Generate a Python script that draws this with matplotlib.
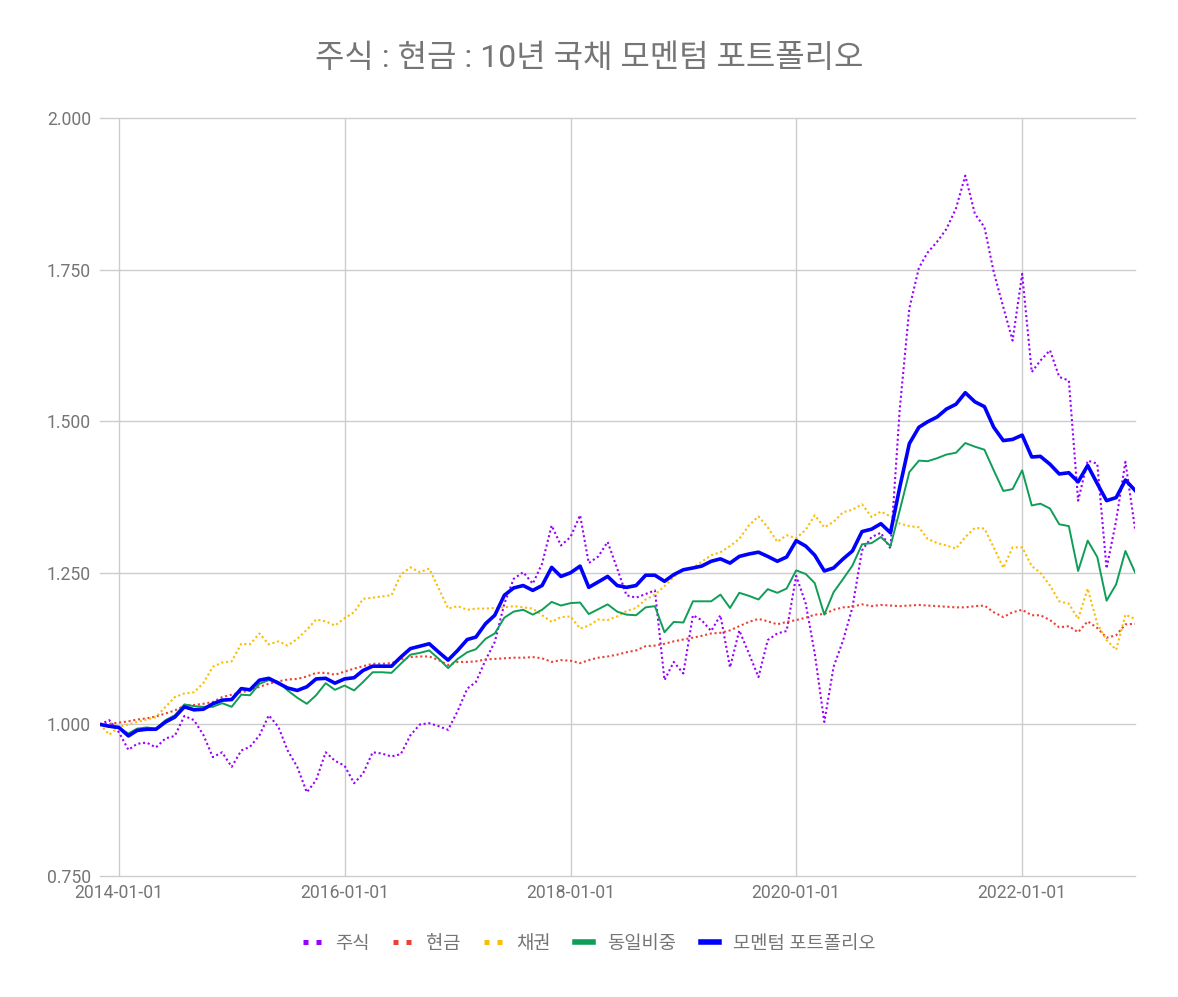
import matplotlib
matplotlib.use("Agg")
import matplotlib.pyplot as plt
import matplotlib.dates as mdates
from matplotlib.lines import Line2D
import pandas as pd

plt.rcParams['font.family'] = ['Roboto', 'Noto Sans CJK KR', 'DejaVu Sans']

# monthly index values, 2013-11 .. 2023-01
dates = pd.date_range("2013-11-01", periods=111, freq="MS")

stocks = [
    1.000, 1.007, 0.987, 0.958, 0.968, 0.970, 0.962, 0.977, 0.981, 1.014,
    1.007, 0.983, 0.946, 0.954, 0.930, 0.957, 0.963, 0.982, 1.015, 0.996,
    0.957, 0.930, 0.888, 0.908, 0.954, 0.940, 0.932, 0.903, 0.919, 0.954,
    0.952, 0.947, 0.951, 0.982, 1.000, 1.002, 0.997, 0.991, 1.022, 1.059,
    1.070, 1.106, 1.136, 1.199, 1.240, 1.251, 1.232, 1.265, 1.328, 1.295,
    1.309, 1.345, 1.266, 1.277, 1.301, 1.257, 1.213, 1.209, 1.215, 1.221,
    1.073, 1.103, 1.084, 1.180, 1.172, 1.154, 1.180, 1.094, 1.155, 1.117,
    1.078, 1.139, 1.150, 1.154, 1.245, 1.199, 1.117, 1.004, 1.095, 1.139,
    1.193, 1.287, 1.309, 1.316, 1.290, 1.520, 1.686, 1.753, 1.778, 1.796,
    1.817, 1.851, 1.905, 1.842, 1.820, 1.746, 1.688, 1.633, 1.743, 1.581,
    1.600, 1.617, 1.573, 1.567, 1.369, 1.435, 1.430, 1.257, 1.336, 1.433,
    1.323]

cash = [
    1.000, 1.001, 1.003, 1.005, 1.008, 1.010, 1.013, 1.018, 1.023, 1.031,
    1.032, 1.034, 1.037, 1.045, 1.049, 1.053, 1.056, 1.062, 1.067, 1.071,
    1.074, 1.075, 1.079, 1.085, 1.085, 1.082, 1.087, 1.092, 1.096, 1.100,
    1.100, 1.101, 1.107, 1.111, 1.112, 1.112, 1.106, 1.098, 1.103, 1.103,
    1.104, 1.107, 1.108, 1.109, 1.110, 1.110, 1.111, 1.109, 1.103, 1.106,
    1.105, 1.101, 1.106, 1.110, 1.112, 1.115, 1.119, 1.122, 1.129, 1.130,
    1.133, 1.137, 1.140, 1.143, 1.146, 1.150, 1.151, 1.155, 1.162, 1.169,
    1.174, 1.170, 1.165, 1.169, 1.172, 1.176, 1.181, 1.182, 1.189, 1.193,
    1.194, 1.198, 1.195, 1.197, 1.196, 1.195, 1.196, 1.197, 1.196, 1.195,
    1.194, 1.193, 1.193, 1.195, 1.196, 1.185, 1.177, 1.185, 1.189, 1.180,
    1.180, 1.172, 1.160, 1.162, 1.152, 1.170, 1.159, 1.143, 1.147, 1.165,
    1.166]

bonds = [
    1.000, 0.983, 0.996, 1.000, 1.004, 1.008, 1.012, 1.029, 1.045, 1.051,
    1.053, 1.068, 1.095, 1.102, 1.104, 1.133, 1.132, 1.150, 1.132, 1.137,
    1.130, 1.141, 1.156, 1.173, 1.170, 1.163, 1.175, 1.185, 1.207, 1.209,
    1.211, 1.213, 1.247, 1.259, 1.251, 1.257, 1.224, 1.191, 1.195, 1.189,
    1.191, 1.191, 1.192, 1.193, 1.195, 1.193, 1.191, 1.180, 1.169, 1.177,
    1.178, 1.158, 1.163, 1.173, 1.172, 1.178, 1.187, 1.192, 1.206, 1.214,
    1.228, 1.243, 1.255, 1.258, 1.268, 1.279, 1.284, 1.294, 1.306, 1.328,
    1.343, 1.325, 1.301, 1.312, 1.307, 1.321, 1.345, 1.325, 1.334, 1.350,
    1.354, 1.363, 1.342, 1.351, 1.343, 1.331, 1.327, 1.325, 1.306, 1.299,
    1.295, 1.290, 1.309, 1.324, 1.323, 1.292, 1.258, 1.292, 1.292, 1.261,
    1.250, 1.229, 1.203, 1.199, 1.174, 1.224, 1.166, 1.139, 1.123, 1.181,
    1.174]

equal = [
    1.000, 0.996, 0.994, 0.985, 0.993, 0.995, 0.993, 1.007, 1.015, 1.033,
    1.030, 1.029, 1.029, 1.035, 1.029, 1.049, 1.048, 1.067, 1.073, 1.070,
    1.056, 1.044, 1.034, 1.048, 1.068, 1.057, 1.064, 1.056, 1.070, 1.086,
    1.086, 1.085, 1.100, 1.115, 1.118, 1.122, 1.108, 1.093, 1.108, 1.119,
    1.124, 1.141, 1.150, 1.176, 1.186, 1.189, 1.181, 1.189, 1.202, 1.196,
    1.200, 1.201, 1.182, 1.190, 1.198, 1.186, 1.181, 1.180, 1.193, 1.195,
    1.152, 1.169, 1.168, 1.203, 1.203, 1.203, 1.214, 1.192, 1.217, 1.212,
    1.206, 1.223, 1.217, 1.224, 1.254, 1.248, 1.233, 1.181, 1.218, 1.240,
    1.262, 1.297, 1.299, 1.309, 1.294, 1.353, 1.416, 1.435, 1.434, 1.439,
    1.445, 1.448, 1.464, 1.458, 1.453, 1.419, 1.385, 1.388, 1.419, 1.361,
    1.364, 1.356, 1.330, 1.327, 1.253, 1.303, 1.276, 1.204, 1.231, 1.286,
    1.251]

momentum = [
    1.000, 0.997, 0.995, 0.981, 0.990, 0.992, 0.992, 1.004, 1.012, 1.029,
    1.024, 1.025, 1.034, 1.040, 1.041, 1.059, 1.057, 1.073, 1.076, 1.068,
    1.060, 1.056, 1.062, 1.075, 1.076, 1.068, 1.075, 1.077, 1.089, 1.096,
    1.096, 1.096, 1.111, 1.125, 1.129, 1.133, 1.119, 1.106, 1.122, 1.140,
    1.144, 1.166, 1.180, 1.213, 1.225, 1.229, 1.221, 1.229, 1.259, 1.244,
    1.250, 1.261, 1.226, 1.235, 1.244, 1.229, 1.226, 1.229, 1.246, 1.246,
    1.236, 1.247, 1.255, 1.258, 1.261, 1.269, 1.273, 1.266, 1.277, 1.281,
    1.284, 1.277, 1.269, 1.276, 1.303, 1.294, 1.279, 1.253, 1.258, 1.273,
    1.286, 1.318, 1.322, 1.331, 1.316, 1.391, 1.463, 1.490, 1.499, 1.507,
    1.520, 1.528, 1.547, 1.532, 1.524, 1.490, 1.468, 1.470, 1.477, 1.441,
    1.442, 1.429, 1.413, 1.415, 1.400, 1.427, 1.397, 1.369, 1.374, 1.403,
    1.386]

names = ["주식", "현금", "채권", "동일비중", "모멘텀 포트폴리오"]
colors = ["#9900ff", "#ea4335", "#fbbc04", "#0f9d58", "#0000ff"]
x_ticks = ["2014-01-01", "2016-01-01", "2018-01-01", "2020-01-01", "2022-01-01"]
y_ticks = [0.75, 1.0, 1.25, 1.5, 1.75, 2.0]

gray = "#757575"

fig = plt.figure(figsize=(11.78, 9.97), dpi=100)
ax = fig.add_axes([100 / 1178, 1 - 876 / 997, 1035 / 1178, 758 / 997])

dot = (0, (1, 1.3))
ax.plot(dates, stocks, color=colors[0], lw=1.5, linestyle=dot)
ax.plot(dates, cash, color=colors[1], lw=1.5, linestyle=dot)
ax.plot(dates, bonds, color=colors[2], lw=1.5, linestyle=dot)
ax.plot(dates, equal, color=colors[3], lw=1.4)
ax.plot(dates, momentum, color=colors[4], lw=2.6)

ax.set_xlim(dates[0], dates[-1])
ax.set_ylim(0.75, 2.0)
ax.set_yticks(y_ticks)
ax.set_yticklabels(["%.3f" % v for v in y_ticks])
ax.set_xticks(pd.to_datetime(x_ticks))
ax.xaxis.set_major_formatter(mdates.DateFormatter("%Y-%m-%d"))

ax.grid(True, color="#cccccc", lw=1)
ax.set_axisbelow(True)
for gl in ax.get_ygridlines():
    gl.set_clip_on(False)
for s in ax.spines.values():
    s.set_visible(False)
ax.tick_params(length=0, labelsize=12.7, labelcolor=gray)
ax.tick_params(axis="y", pad=6.5)
ax.tick_params(axis="x", pad=6)

fig.text(0.5, 1 - 58 / 997, "주식 : 현금 : 10년 국채 모멘텀 포트폴리오",
         ha="center", va="center", fontsize=23, color=gray)

handles = [
    Line2D([], [], color=colors[0], lw=3.6, dashes=(1, 1.6)),
    Line2D([], [], color=colors[1], lw=3.6, dashes=(1, 1.6)),
    Line2D([], [], color=colors[2], lw=3.6, dashes=(1, 1.6)),
    Line2D([], [], color=colors[3], lw=4),
    Line2D([], [], color=colors[4], lw=4),
]
leg = fig.legend(handles, names, loc="center", bbox_to_anchor=(0.5, 1 - 944 / 997),
                 ncol=5, frameon=False, fontsize=13.5, handlelength=0.96,
                 handletextpad=0.75, columnspacing=1.3)
for t in leg.get_texts():
    t.set_color(gray)

fig.savefig("out.png", dpi=100)
